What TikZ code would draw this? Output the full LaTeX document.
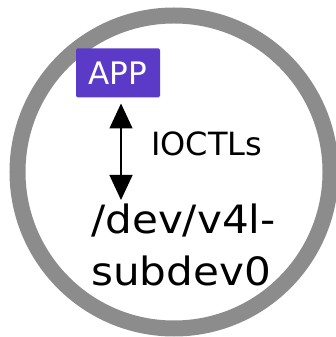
\documentclass[tikz,border=0pt]{standalone}
\usepackage{fontspec}
\setmainfont{DejaVu Sans}
\newfontfamily\widefont[FakeStretch=1.08]{DejaVu Sans}
\usetikzlibrary{arrows.meta}
\definecolor{ringgray}{RGB}{140,140,140}
\definecolor{apppurple}{RGB}{92,58,200}
\tikzset{
  ring/.style={draw=ringgray, line width=16pt},
  appbox/.style={fill=apppurple, text=white, rounded corners=1.5pt, inner sep=0pt,
    minimum width=84pt, minimum height=49pt, font=\fontsize{31}{36}\selectfont},
  lbl/.style={inner sep=0pt, font=\fontsize{32}{38}\selectfont},
  devlbl/.style={inner sep=0pt, align=left, font=\widefont\fontsize{39}{50}\selectfont},
  biarrow/.style={line width=1.3pt, {Triangle[width=23pt,length=25pt]}-{Triangle[width=23pt,length=25pt]}}
}
\begin{document}
\begin{tikzpicture}[x=1pt,y=1pt]
\useasboundingbox (0,0) rectangle (335,337);
\draw[ring] (174,165) circle (156.5);
\node[appbox] (app) at (118,264.2) {APP};
\node[lbl, anchor=base west] (ioctl) at (151,181.3) {IOCTLs};
\node[devlbl, anchor=north west] (dev) at (91,133) {/dev/v4l-\\[2pt]subdev0};
\draw[biarrow, shorten <=6pt, shorten >=4pt] ([xshift=3pt]app.south) -- ([xshift=3pt]app.south |- dev.north);
\end{tikzpicture}
\end{document}
